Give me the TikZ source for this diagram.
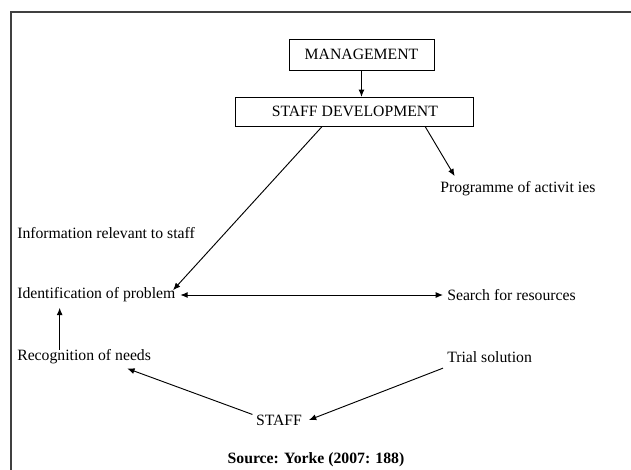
\documentclass[tikz,border=0pt]{standalone}
\usepackage{fontspec}
\setmainfont{Liberation Serif}
\usetikzlibrary{positioning,arrows.meta}

\tikzset{
  txt/.style={inner sep=0pt,font=\fontsize{11.8}{14}\selectfont},
  box/.style={txt,draw,line width=0.7pt},
  arr/.style={->,>={Latex[length=5.5pt,width=4.5pt]},line width=0.7pt},
  dbl/.style={<->,>={Latex[length=5.5pt,width=4.5pt]},line width=0.7pt},
  frame/.style={draw=black!75,line width=1.3pt}
}

\begin{document}
\begin{tikzpicture}[x=0.75pt,y=-0.75pt]
    \useasboundingbox (0,0) rectangle (631,469);
    \clip (0,0) rectangle (631,469);
    \draw[frame] (11,490) |- (650,12);

    \node[box,minimum width=108.75pt,minimum height=23.25pt] (mgmt) at (361.5,54.5) {MANAGEMENT};
    \node[box,minimum width=178.5pt,minimum height=21.75pt] (sd) [below=43pt of mgmt.center,anchor=center,xshift=-5pt] {STAFF DEVELOPMENT};

    \node[txt,anchor=west] (prog) at (440,189) {Programme of activit ies};
    \node[txt,anchor=west] (ident) at (17,295) {Identification of problem};
    \node[txt] (info)   [above=46.5pt of ident.west,anchor=west] {Information relevant to staff};
    \node[txt] (recog)  [below=46.5pt of ident.west,anchor=west] {Recognition of needs};
    \node[txt] (search) [right=322.5pt of ident.west,anchor=west] {Search for resources};
    \node[txt] (trial)  [below=46.5pt of search.west,anchor=west] {Trial solution};
    \node[txt] (staff) at (279,420) {STAFF};
    \node[txt,font=\fontsize{11.8}{14}\selectfont\bfseries] (src) at (316,460) {Source: Yorke (2007: 188)};

    % top part
    \draw[arr] (mgmt.south) -- (mgmt.south |- sd.north);
    \draw[arr] ([xshift=-24.75pt]sd.south) -- ([xshift=-2pt,yshift=-2pt]ident.north east);
    \draw[arr] ([xshift=-36.75pt]sd.south east) -- ([xshift=11pt,yshift=4pt]prog.north west);

    % the cycle
    \draw[dbl] ([xshift=3.5pt]ident.east) -- ([xshift=-3pt]search.west);
    \draw[arr] ([xshift=32pt]recog.north west) -- ([xshift=32pt,yshift=-4pt]ident.south west);
    \draw[arr] ([xshift=-2.5pt]staff.north west) -- ([xshift=-18pt,yshift=-3pt]recog.south east);
    \draw[arr] ([xshift=-3pt,yshift=-4pt]trial.south west) -- ([xshift=5pt]staff.east);

\end{tikzpicture}
\end{document}
